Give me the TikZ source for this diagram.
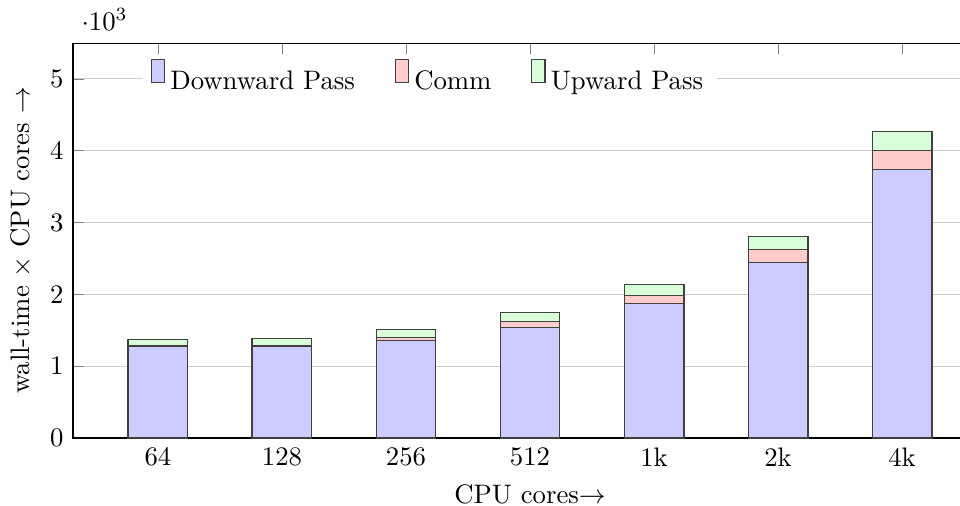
\documentclass[tikz,border=0pt]{standalone}
\usepackage{pgfplots}
\pgfplotsset{compat=1.18}
\usetikzlibrary{calc}

\begin{document}
\begin{tikzpicture}[
    barstyle/.style={draw=black!75},
]
\begin{axis}[
    name=chart,
    ybar stacked,
    bar width=22.4pt,
    scale only axis,
    width=341.8pt, height=147.7pt,
    xmin=0.315, xmax=7.685,
    ymin=0, ymax=5500,
    xtick={1,...,7},
    xticklabels={64,128,256,512,1k,2k,4k},
    ytick={0,1000,...,5000},
    scaled y ticks=base 10:-3,
    ymajorgrids,
    grid style={gray!40},
    xlabel={CPU cores$\rightarrow$},
    ylabel={wall-time $\times$ CPU cores $\rightarrow$},
    legend columns=-1,
    legend style={at={(0.0755,0.909)}, anchor=west, draw=none, fill=white,
        /tikz/every even column/.append style={column sep=0.45cm}},
    legend image code/.code={\draw[#1] (0pt,0em) rectangle (5pt,0.85em);},
]
    % downward pass
    \addplot[barstyle, fill=blue!20] coordinates
        {(1,1275) (2,1270) (3,1355) (4,1540) (5,1870) (6,2450) (7,3735)};
    % communication
    \addplot[barstyle, fill=red!20] coordinates
        {(1,15) (2,20) (3,45) (4,80) (5,120) (6,180) (7,275)};
    % upward pass
    \addplot[barstyle, fill=green!15] coordinates
        {(1,80) (2,95) (3,105) (4,125) (5,150) (6,180) (7,255)};
    \legend{Downward Pass, Comm, Upward Pass}
    \coordinate (origin) at (rel axis cs:0,0);
\end{axis}
\pgfresetboundingbox
\useasboundingbox ($(origin)+(-27.3pt,-25.4pt)$) rectangle ($(origin)+(331.7pt,163.8pt)$);
\end{tikzpicture}
\end{document}
